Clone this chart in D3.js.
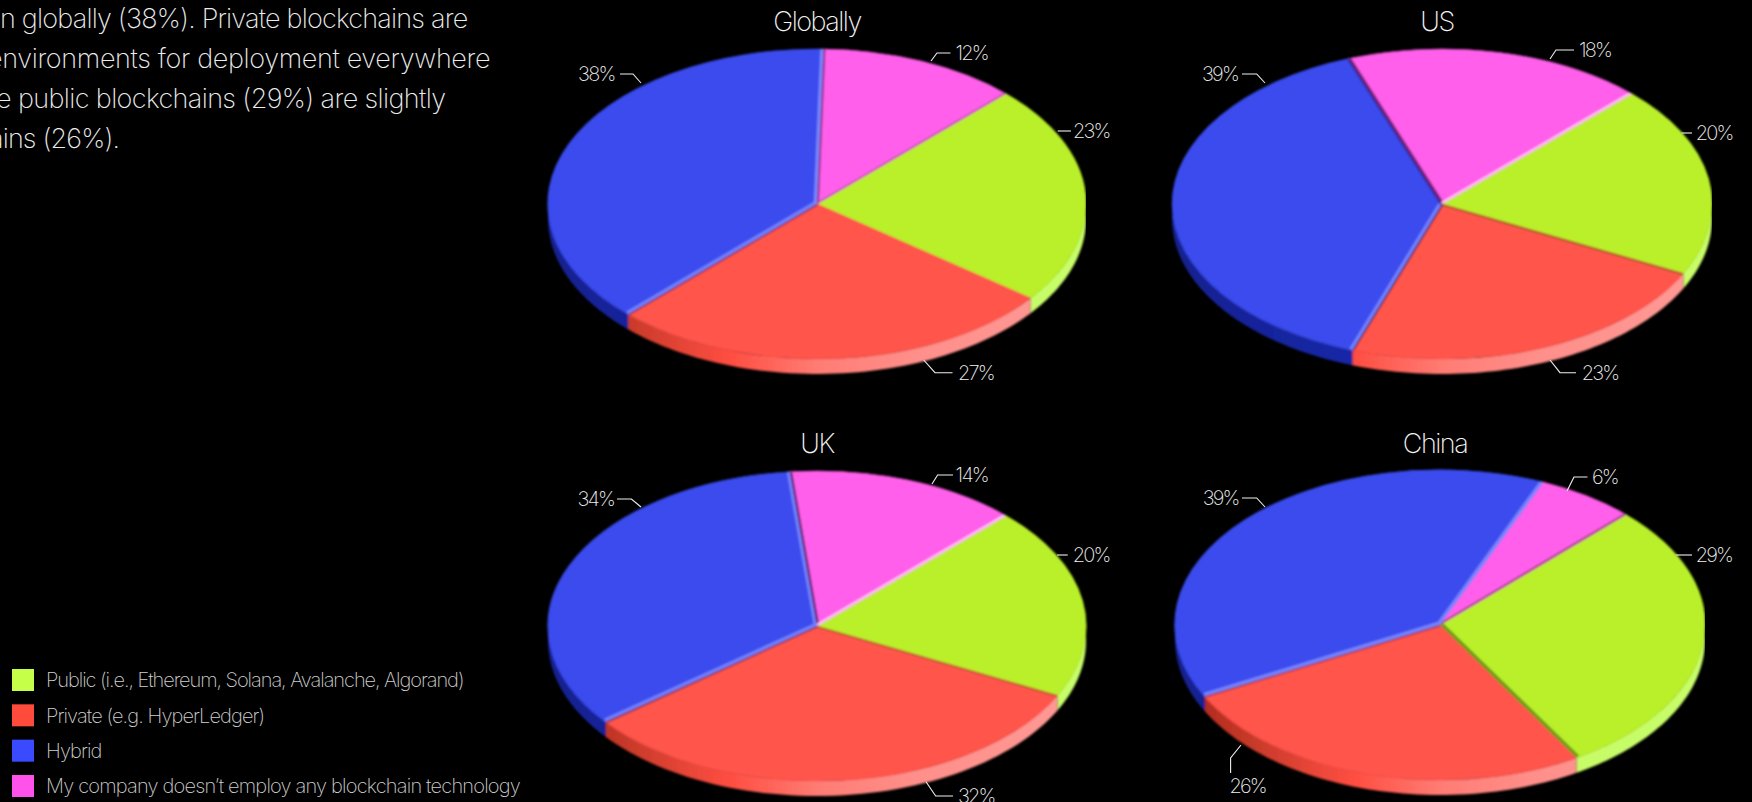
<!DOCTYPE html>
<html>
<head>
<meta charset="utf-8">
<script src="https://cdn.jsdelivr.net/npm/d3@7/dist/d3.min.js"></script>
<style>
  html, body { margin: 0; background: #000; overflow: hidden; }
  svg { display: block; }
  text { font-family: Inter, "Noto Sans", sans-serif; font-weight: 200; }
</style>
</head>
<body>
<svg id="chart" width="1752" height="802"></svg>
<script>
// Blockchain deployment shares by region
const categories = [
  "Public (i.e., Ethereum, Solana, Avalanche, Algorand)",
  "Private (e.g. HyperLedger)",
  "Hybrid",
  "My company doesn\u2019t employ any blockchain technology"
];
const regions = ["Globally", "US", "UK", "China"];
const publicValues  = [23, 20, 20, 29];
const privateValues = [27, 23, 32, 26];
const hybridValues  = [38, 39, 34, 39];
const noneValues    = [12, 18, 14, 6];
const seriesValues = [publicValues, privateValues, hybridValues, noneValues];

const introLines = [
  "n globally (38%). Private blockchains are",
  "environments for deployment everywhere",
  "e public blockchains (29%) are slightly",
  "ains (26%)."
];

// Colours per category: swatch, top face, and the side wall ramp as [offset, colour] stops
const swatchColors = ["#c6ff47", "#ff4b3c", "#3a4bff", "#ff52ea"];
const faceColors   = ["#b9f02c", "#ff544c", "#3a4bee", "#ff5fea"];
const wallRamps = [
  [[0, "#c4fa62"], [1, "#c8fd6a"]],
  [[0, "#a82418"], [0.15, "#c83a2a"], [0.34, "#ff4e42"], [0.5, "#ff7c74"], [0.68, "#ff8f8a"], [1, "#ff9a96"]],
  [[0, "#15218f"], [0.5, "#1c2bb4"], [1, "#2536cc"]],
  [[0, "#c040b0"], [1, "#ff8ff0"]]
];

// Placement of each pie on the page
const pieLayout = [
  { cx: 817,  cy: 204, rx: 269, ry: 155, clipX: 1086, titleX: 817,  titleY: 31 },
  { cx: 1442, cy: 204, rx: 270, ry: 155, clipX: 1712, titleX: 1437, titleY: 31 },
  { cx: 817,  cy: 626, rx: 269, ry: 155, clipX: 1088, titleX: 817,  titleY: 453 },
  { cx: 1440, cy: 625, rx: 265, ry: 155, clipX: 1705, titleX: 1435, titleY: 453 }
];
const wallDepth = 15;
const firstSliceAngle = 44.6 * Math.PI / 180;

// Callout geometry relative to each pie's centre: leader points, then text x, y, anchor
const calloutLayout = [
  [ { pts: [[240.7,-73],[254,-73]], tx: 256, ty: -73, anchor: "start" },
    { pts: [[106.7,156],[118,168.7],[135.5,168.7]], tx: 141, ty: 168.7, anchor: "start" },
    { pts: [[-176,-121],[-184,-130],[-197,-130]], tx: -202.5, ty: -130, anchor: "end" },
    { pts: [[114,-143],[120,-151],[133.5,-151]], tx: 138.5, ty: -151, anchor: "start" } ],
  [ { pts: [[239.5,-71],[250,-71]], tx: 253.7, ty: -71, anchor: "start" },
    { pts: [[108,156],[118,168.7],[134,168.7]], tx: 139.7, ty: 168.7, anchor: "start" },
    { pts: [[-177,-121],[-185.3,-130],[-200,-130]], tx: -204, ty: -130, anchor: "end" },
    { pts: [[108,-145],[114,-154],[132,-154]], tx: 137, ty: -154, anchor: "start" } ],
  [ { pts: [[240,-71],[250.7,-71]], tx: 255.7, ty: -71, anchor: "start" },
    { pts: [[109,155.7],[118.7,170],[136,170]], tx: 141, ty: 170, anchor: "start" },
    { pts: [[-176,-119],[-185.6,-127],[-200,-127]], tx: -203, ty: -127, anchor: "end" },
    { pts: [[115,-142],[120.6,-151],[136,-151]], tx: 138.6, ty: -151, anchor: "start" } ],
  [ { pts: [[235.7,-70],[252,-70]], tx: 255.7, ty: -70, anchor: "start" },
    { pts: [[-199,120],[-209.4,133],[-209.4,148]], tx: -210.6, ty: 161, anchor: "start" },
    { pts: [[-175,-118],[-183.3,-127],[-198,-127]], tx: -201.4, ty: -127, anchor: "end" },
    { pts: [[127,-134],[134,-148],[147.5,-148]], tx: 152, ty: -148, anchor: "start" } ]
];

// Bevel strips along slice edges: [category, edge ("start"|"end"), colour, half-width in px]
const bevels = [
  [ [2,"start","#7482ff",3.4], [2,"end","#7c88ff",3.2], [3,"start","#7a2a88",1.8], [3,"end","#b8489c",1.4], [1,"end","#7c2a50",1.4] ],
  [ [2,"start","#7482ff",3.4], [2,"end","#30208c",1.8], [3,"start","#6c1a70",2.2], [3,"end","#ffd0f4",2], [1,"start","#9a5a1e",1.6], [1,"end","#4c2a50",1.6] ],
  [ [2,"start","#7482ff",3.4], [2,"end","#7482ff",3], [3,"start","#4a1860",2.2], [3,"end","#ffd0f4",2], [1,"start","#a05a20",1.4], [1,"end","#7c2a50",1.4] ],
  [ [2,"start","#7884ff",3.6], [2,"end","#7884ff",3.6], [3,"end","#a03c80",1.8], [0,"end","#6f9a12",3.6], [1,"end","#8a3040",1.2] ]
];

// Per-line text fitting for the paragraph and the legend
const introX = [0, -13, -4, -11];
const introTracking = [-0.8, -0.35, -0.62, -0.85];
const legendTracking = [-1.06, -0.9, -0.9, -0.81];

const svg = d3.select("#chart");
const defs = svg.append("defs");

const soften = defs.append("filter").attr("id", "soft")
  .attr("x", "-5%").attr("y", "-5%").attr("width", "110%").attr("height", "110%");
soften.append("feGaussianBlur").attr("stdDeviation", 0.9);

const pie = d3.pie().sort(null).startAngle(firstSliceAngle).endAngle(firstSliceAngle + 2 * Math.PI);
const unitArc = d3.arc().innerRadius(0).outerRadius(1);

regions.forEach((region, r) => {
  const L = pieLayout[r];
  const values = seriesValues.map(s => s[r]);
  const slices = pie(values);
  const rim = a => [L.cx + L.rx * Math.sin(a), L.cy - L.ry * Math.cos(a)];

  // Right-hand crop of the disc
  defs.append("clipPath").attr("id", `crop${r}`).append("rect")
    .attr("x", 0).attr("y", 0).attr("width", L.clipX).attr("height", 802);

  // Wall gradients span the full disc width
  wallRamps.forEach((ramp, c) => {
    const g = defs.append("linearGradient").attr("id", `wall${r}-${c}`)
      .attr("gradientUnits", "userSpaceOnUse")
      .attr("x1", L.cx - L.rx).attr("x2", L.cx + L.rx).attr("y1", 0).attr("y2", 0);
    g.selectAll("stop").data(ramp).join("stop")
      .attr("offset", d => d[0])
      .attr("stop-color", d => d[1]);
  });

  const outer = svg.append("g").attr("clip-path", `url(#crop${r})`);
  const disc = outer.append("g").attr("filter", "url(#soft)");

  // Side wall: only the part of the rim that faces the viewer
  const wallLine = d3.line();
  slices.forEach((s, c) => {
    for (const shift of [0, 2 * Math.PI]) {
      const a0 = Math.max(s.startAngle, Math.PI / 2 + shift);
      const a1 = Math.min(s.endAngle, 3 * Math.PI / 2 + shift);
      if (a1 <= a0) continue;
      const steps = d3.range(0, 61).map(i => a0 + (a1 - a0) * i / 60);
      const top = steps.map(rim);
      const bottom = steps.slice().reverse().map(a => {
        const p = rim(a);
        return [p[0], p[1] + wallDepth];
      });
      disc.append("path")
        .attr("d", wallLine(top.concat(bottom)) + "Z")
        .attr("fill", `url(#wall${r}-${c})`);
    }
  });

  // Top faces, drawn on a unit circle squashed into the ellipse
  slices.forEach((s, c) => {
    const transform = `translate(${L.cx},${L.cy}) scale(${L.rx},${L.ry})`;
    disc.append("path")
      .attr("d", unitArc(s))
      .attr("transform", transform)
      .attr("fill", faceColors[c])
      .attr("stroke", faceColors[c])
      .attr("stroke-width", 0.004);
    defs.append("clipPath").attr("id", `slice${r}-${c}`).append("path")
      .attr("d", unitArc(s))
      .attr("transform", transform);
  });

  // Edge strips, kept inside their own slice
  bevels[r].forEach(([c, edge, colour, half]) => {
    const s = slices[c];
    const a = edge === "start" ? s.startAngle : s.endAngle;
    const p = rim(a);
    disc.append("g").attr("clip-path", `url(#slice${r}-${c})`)
      .append("line")
      .attr("x1", L.cx).attr("y1", L.cy)
      .attr("x2", p[0]).attr("y2", p[1])
      .attr("stroke", colour)
      .attr("stroke-width", half * 2);
  });

  // Title
  svg.append("text")
    .attr("x", L.titleX).attr("y", L.titleY)
    .attr("text-anchor", "middle")
    .attr("font-size", 27)
    .attr("letter-spacing", -1.5)
    .attr("fill", "#f4f4f4")
    .text(region);

  // Callouts
  const line = d3.line();
  calloutLayout[r].forEach((c, i) => {
    svg.append("path")
      .attr("d", line(c.pts.map(p => [L.cx + p[0], L.cy + p[1]])))
      .attr("fill", "none")
      .attr("stroke", "#f0f0f0")
      .attr("stroke-width", 1.1);
    svg.append("text")
      .attr("x", L.cx + c.tx).attr("y", L.cy + c.ty)
      .attr("dy", "0.36em")
      .attr("text-anchor", c.anchor)
      .attr("font-size", 20)
      .attr("letter-spacing", -1.8)
      .attr("fill", "#f0f0f0")
      .text(`${values[i]}%`);
  });
});

// Intro paragraph, running off the left edge of the page
svg.append("g").selectAll("text").data(introLines).join("text")
  .attr("x", (d, i) => introX[i])
  .attr("y", (d, i) => 28 + i * 40)
  .attr("font-size", 27)
  .attr("letter-spacing", (d, i) => introTracking[i])
  .attr("fill", "#ececec")
  .text(d => d);

// Legend
const rowY = d3.scalePoint().domain(categories).range([669, 775]);
const legend = svg.append("g").selectAll("g").data(categories).join("g")
  .attr("transform", d => `translate(12,${rowY(d)})`);
legend.append("rect")
  .attr("width", 22).attr("height", 22)
  .attr("fill", (d, i) => swatchColors[i]);
legend.append("text")
  .attr("x", 34).attr("y", 11).attr("dy", "0.36em")
  .attr("font-size", 20)
  .attr("letter-spacing", (d, i) => legendTracking[i])
  .attr("fill", "#cfcfcf")
  .text(d => d);
</script>
</body>
</html>
